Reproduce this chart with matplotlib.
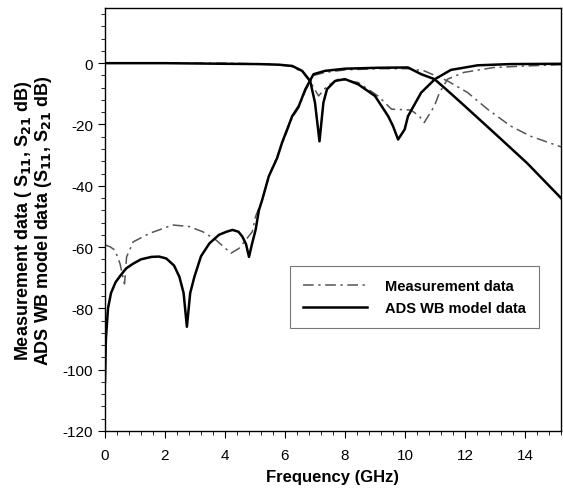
import numpy as np
import matplotlib
matplotlib.use("Agg")
import matplotlib.pyplot as plt
from matplotlib.ticker import MultipleLocator

plt.rcParams["font.family"] = ["Liberation Sans", "DejaVu Sans"]
plt.rcParams["axes.unicode_minus"] = False

# ADS WB model, S21
model_s21_f = [0, 0.03, 0.1, 0.2, 0.35, 0.5, 0.7, 0.94, 1.2, 1.55, 1.8, 2.04, 2.3, 2.48,
               2.62, 2.73, 2.84, 2.98, 3.2, 3.48, 3.8, 4.05, 4.25, 4.45, 4.58, 4.7, 4.8,
               4.9, 5.02, 5.13, 5.24, 5.46, 5.74, 5.9, 6.24, 6.46, 6.68, 6.95, 7.34, 8.0,
               9.1, 10.1, 10.54, 10.98, 11.31, 11.87, 12.97, 14.07, 15.2]
model_s21_db = [-104, -90, -80, -75, -71.5, -69.5, -67, -65.4, -64, -63.2, -63.1, -63.7,
                -66, -69.7, -75, -86, -75, -69.7, -63, -58.8, -56, -55, -54.4, -55, -56.6,
                -59, -63.2, -59, -54.4, -48, -44.6, -36.9, -30.9, -26, -17.3, -14, -8.5,
                -3.6, -2.5, -1.8, -1.5, -1.4, -3.6, -5.2, -8, -12.9, -22.7, -32.6, -44]

# ADS WB model, S11
model_s11_f = [0, 2, 4, 5.13, 5.8, 6.24, 6.57, 6.84, 7.0, 7.15, 7.28, 7.4, 7.67, 8.0, 8.44,
               9.0, 9.44, 9.6, 9.77, 9.99, 10.1, 10.54, 11.0, 11.53, 12.42, 13.5, 15.2]
model_s11_db = [0, 0, -0.2, -0.3, -0.5, -0.9, -2.5, -5.8, -12.9, -25.5, -12.9, -8.5, -5.8,
                -5.2, -6.9, -10.7, -17.3, -20.5, -24.9, -21.6, -17.3, -9.6, -5.2, -2.2,
                -0.7, -0.3, -0.2]

# measurement, S21
meas_s21_f = [0, 0.17, 0.33, 0.5, 0.65, 0.72, 0.94, 1.49, 2.26, 2.81, 3.26, 3.7, 4.2, 4.47,
              4.69, 4.91, 5.02, 5.24, 5.46, 5.9, 6.24, 6.46, 6.68, 6.95, 7.34, 8.0, 9.1,
              10.1, 10.64, 11.42, 12.09, 12.75, 13.52, 14.18, 15.2]
meas_s21_db = [-59.3, -59.9, -61, -65.4, -72, -63.2, -58.3, -55.5, -52.8, -53.3, -55, -57.7,
               -62, -60.4, -57.7, -55, -50, -44.6, -37, -26.5, -17.8, -14.5, -9, -4, -3,
               -2.2, -1.8, -1.8, -2.5, -5.8, -9.6, -15, -20.5, -23.8, -27.3]

# measurement, S11
meas_s11_f = [0, 2, 4, 5.5, 6.2, 6.6, 6.9, 7.12, 7.4, 7.78, 8.44, 9.1, 9.55, 10.2, 10.48,
              10.64, 10.98, 11.15, 11.42, 11.97, 12.97, 14.07, 15.2]
meas_s11_db = [0, 0, 0, -0.3, -1, -3, -7, -10.7, -7.5, -5.2, -6.3, -10.7, -15, -15.3, -17.3,
               -19.4, -14, -9.6, -5.2, -3, -1.4, -0.9, -0.5]

fig = plt.figure(figsize=(5.63, 4.89), dpi=100)
ax = fig.add_axes([0.1865, 0.1166, 0.8099, 0.865])

dashdot = (0, (7, 3, 1.5, 3))
ax.plot(meas_s21_f, meas_s21_db, color="#555555", lw=1.1, linestyle=dashdot,
        label="Measurement data")
ax.plot(meas_s11_f, meas_s11_db, color="#555555", lw=1.1, linestyle=dashdot)
ax.plot(model_s21_f, model_s21_db, color="black", lw=1.8, label="ADS WB model data")
ax.plot(model_s11_f, model_s11_db, color="black", lw=1.8)

ax.set_xlim(0, 15.2)
ax.set_ylim(-120, 18)
ax.xaxis.set_major_locator(MultipleLocator(2))
ax.xaxis.set_minor_locator(MultipleLocator(0.4))
ax.yaxis.set_major_locator(MultipleLocator(20))
ax.yaxis.set_minor_locator(MultipleLocator(4))
ax.tick_params(which="both", direction="out", top=False, right=False, labelsize=11)
ax.tick_params(which="major", length=5)
ax.tick_params(axis="x", which="major", pad=7)
ax.tick_params(which="minor", length=3)
for s in ax.spines.values():
    s.set_linewidth(1.0)

ax.set_xlabel("Frequency (GHz)", fontsize=12, fontweight="bold", labelpad=5)
ax.set_ylabel("Measurement data ( S$_{\\mathbf{11}}$, S$_{\\mathbf{21}}$ dB)\n"
              "ADS WB model data (S$_{\\mathbf{11}}$, S$_{\\mathbf{21}}$ dB)",
              fontsize=13, fontweight="bold", labelpad=6, linespacing=0.95)

leg = ax.legend(loc="upper left", bbox_to_anchor=(0.39, 0.4066),
                prop={"weight": "bold", "size": 10.5}, handlelength=4.4,
                handletextpad=1.2, borderpad=0.9, labelspacing=0.5,
                fancybox=False, framealpha=1, edgecolor="#777777")
leg.get_frame().set_linewidth(0.8)

fig.savefig("out.png", dpi=100)
